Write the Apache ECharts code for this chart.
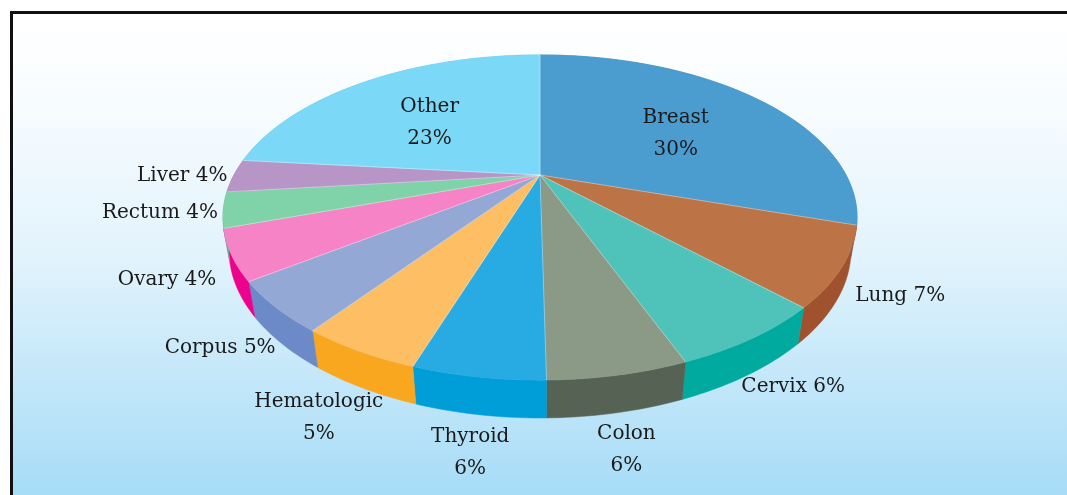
<!DOCTYPE html>
<html>
<head>
<meta charset="utf-8">
<script src="https://cdn.jsdelivr.net/npm/echarts@6/dist/echarts.min.js"></script>
<style>
  html, body { margin: 0; padding: 0; background: #fff; }
  #chart { width: 1067px; height: 495px; }
</style>
</head>
<body>
<div id="chart"></div>
<script>
// cancer sites, clockwise from 12 o'clock
var sites = ['Breast', 'Lung', 'Cervix', 'Colon', 'Thyroid', 'Hematologic', 'Corpus', 'Ovary', 'Rectum', 'Liver', 'Other'];
// slice sizes
var shares = [29.9, 7.7, 6.5, 5.6, 5.3, 4.9, 4.9, 4.9, 3.5, 3.3, 23.4];
// percentages as printed on the labels
var printedPct = [30, 7, 6, 6, 6, 5, 5, 4, 4, 4, 23];

var topColors = ['#4b9dd0', '#bc7446', '#4fc3ba', '#8b9a87', '#28aae2', '#fdbe64', '#94a8d6', '#f683c6', '#80d3a9', '#b895c7', '#7cd8f7'];
var sideColors = ['#3b85b8', '#a0522f', '#00aa9e', '#566253', '#009ed9', '#f8a71f', '#6c8ac7', '#ec028d', '#5dbd8c', '#9a72ae', '#47bfe9'];

// camera for the tilted pie
var cx = 540, cy = 175;
var camDist = 3.322, focal = 1016.6, sinT = 0.495, cosT = 0.869, thick = 0.1216;
var labelFont = '20px "DejaVu Serif"';

function project(theta, r, z) {
  var X = r * Math.sin(theta), Y = r * Math.cos(theta);
  var d = camDist + Y * cosT - z * sinT;
  var up = Y * sinT + z * cosT;
  return [cx + focal * X / d, cy - focal * up / d];
}

var total = shares.reduce(function (a, b) { return a + b; }, 0);
var starts = [];
var acc = 0;
shares.forEach(function (v) { starts.push(acc / total * Math.PI * 2); acc += v; });

var measure = document.createElement('canvas').getContext('2d');
measure.font = labelFont;

function labelPos(mid, text, inside, twoLines) {
  if (inside) {
    var p = project(mid, 0.6, 0);
    return [p[0], p[1] + 8];
  }
  var s = Math.sin(mid), c = Math.cos(mid);
  var lower = c < -0.3;
  var anchor = lower ? project(mid, 1.04, thick * c) : project(mid, 1.02, 0);
  var w = Math.max.apply(null, text.split('\n').map(function (l) { return measure.measureText(l).width; }));
  var hh = twoLines ? 54 : 22;
  var push = (lower && Math.abs(s) > 0.4) ? 11 * s : 0;
  return [anchor[0] + s * w / 2 + push, anchor[1] - c * hh / 2];
}

function renderItem(params, api) {
  var i = params.dataIndex;
  var a0 = starts[i];
  var a1 = a0 + shares[i] / total * Math.PI * 2;
  var steps = Math.max(4, Math.ceil((a1 - a0) / (Math.PI / 180)));
  var topArc = [], botArc = [];
  for (var s = 0; s <= steps; s++) {
    var t = a0 + (a1 - a0) * s / steps;
    topArc.push(project(t, 1, 0));
    botArc.push(project(t, 1, -thick));
  }
  var centre = project(0, 0, 0);
  var children = [];

  children.push({
    type: 'polygon',
    z2: 1,
    shape: { points: topArc.concat(botArc.slice().reverse()) },
    style: { fill: sideColors[i], stroke: sideColors[i], lineWidth: 0.5 }
  });
  children.push({
    type: 'polygon',
    z2: 5,
    shape: { points: [centre].concat(topArc) },
    style: { fill: topColors[i], stroke: topColors[i], lineWidth: 0.5 }
  });
  children.push({
    type: 'polyline',
    z2: 6,
    shape: { points: [centre, topArc[0]] },
    style: { stroke: 'rgba(255,255,255,0.45)', lineWidth: 0.8, fill: null }
  });

  var mid = (a0 + a1) / 2;
  var inside = shares[i] > 15;
  var twoLines = inside || Math.abs(Math.sin(mid)) < 0.5;
  var text = twoLines ? sites[i] + '\n' + printedPct[i] + '%' : sites[i] + ' ' + printedPct[i] + '%';
  var pos = labelPos(mid, text, inside, twoLines);
  children.push({
    type: 'text',
    z2: 10,
    style: {
      x: pos[0], y: pos[1], text: text,
      align: 'center', verticalAlign: 'middle',
      font: labelFont, fill: '#1a1a1a', lineHeight: 32
    }
  });

  return { type: 'group', children: children };
}

var chart = echarts.init(document.getElementById('chart'));
chart.setOption({
  animation: false,
  graphic: [{
    type: 'rect',
    z: -1,
    silent: true,
    shape: { x: 11.5, y: 12.5, width: 1070, height: 490 },
    style: {
      stroke: '#111',
      lineWidth: 3,
      fill: new echarts.graphic.LinearGradient(0, 0, 0, 1, [
        { offset: 0, color: '#ffffff' },
        { offset: 0.15, color: '#fafdff' },
        { offset: 0.5, color: '#e2f3fc' },
        { offset: 1, color: '#a4dbf7' }
      ])
    }
  }],
  series: [{
    type: 'custom',
    coordinateSystem: 'none',
    renderItem: renderItem,
    data: shares.map(function (v, i) { return [i, v]; })
  }]
});
</script>
</body>
</html>
